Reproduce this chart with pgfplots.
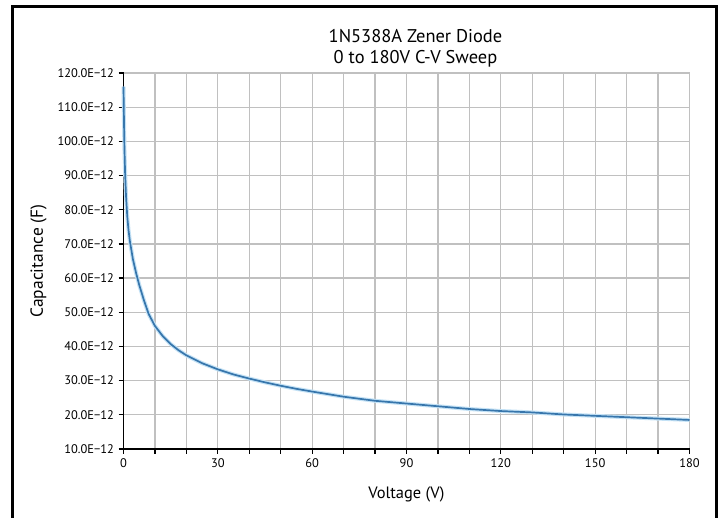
\documentclass[border=0pt]{standalone}
\usepackage{fontspec}
\setmainfont{PT Sans}
\usepackage{pgfplots}
\pgfplotsset{compat=1.18}
\usepackage{pgfplotstable}

\definecolor{curve}{RGB}{55,118,172}
\definecolor{halo}{RGB}{196,226,246}
\definecolor{gridgray}{RGB}{192,192,192}

% C-V sweep, voltage (V) vs capacitance (F)
\pgfplotstableread{
V C
0 116e-12
0.15 106e-12
0.3 98e-12
0.5 91e-12
0.8 84e-12
1.2 78e-12
1.6 74e-12
2 71e-12
3 65.5e-12
4 61.5e-12
5 58e-12
6.5 53.5e-12
8 49.5e-12
10 46e-12
12.5 43e-12
15 40.7e-12
17.5 38.9e-12
20 37.4e-12
25 35.1e-12
30 33.3e-12
35 31.8e-12
40 30.6e-12
45 29.5e-12
50 28.5e-12
55 27.6e-12
60 26.8e-12
70 25.3e-12
80 24.1e-12
90 23.3e-12
100 22.5e-12
110 21.7e-12
120 21.1e-12
130 20.7e-12
140 20.1e-12
150 19.7e-12
160 19.3e-12
170 18.9e-12
180 18.5e-12
}\cvdata

\begin{document}
\begin{tikzpicture}
\useasboundingbox (0,0) rectangle (724bp,518bp);
\fill[white] (0,0) rectangle (724bp,518bp);
\draw[line width=3bp] (12.5bp,0) -- (12.5bp,511bp) -- (716.5bp,511bp) -- (716.5bp,0);
\begin{axis}[
    at={(123.5bp,69bp)}, anchor=south west,
    scale only axis,
    width=566bp, height=376bp,
    xmin=0, xmax=180,
    ymin=10e-12, ymax=120e-12,
    scaled y ticks=false,
    axis x line*=bottom, axis y line*=left,
    axis line style={line width=1.5bp, black},
    xtick={0,30,60,90,120,150,180},
    minor xtick={10,20,40,50,70,80,100,110,130,140,160,170},
    ytick={10e-12,20e-12,30e-12,40e-12,50e-12,60e-12,70e-12,80e-12,90e-12,100e-12,110e-12,120e-12},
    yticklabels={10.0E−12,20.0E−12,30.0E−12,40.0E−12,50.0E−12,60.0E−12,70.0E−12,80.0E−12,90.0E−12,100.0E−12,110.0E−12,120.0E−12},
    xticklabels={0,30,60,90,120,150,180},
    tick align=outside,
    major tick length=5bp, minor tick length=5bp,
    tick style={black, line width=1.3bp},
    grid=both,
    major grid style={gridgray, line width=1.2bp},
    minor grid style={gridgray, line width=1.2bp},
    ticklabel style={font=\fontsize{12.5}{14}\selectfont},
    xticklabel style={yshift=-1bp},
    yticklabel style={xshift=-1bp},
    xlabel={Voltage (V)},
    ylabel={Capacitance (F)},
    xlabel style={font=\fontsize{16.5}{19}\selectfont, yshift=-12bp},
    ylabel style={font=\fontsize{17.5}{20}\selectfont, yshift=4bp},
    title={1N5388A Zener Diode\\0 to 180V C-V Sweep},
    title style={align=center, font=\fontsize{18.5}{21}\selectfont, xshift=9bp, yshift=-4bp},
    clip=false,
]
\addplot[halo, line width=4bp, line join=round] table[x=V, y=C] {\cvdata};
\addplot[curve, line width=1.7bp, line join=round] table[x=V, y=C] {\cvdata};
\end{axis}
\end{tikzpicture}
\end{document}
